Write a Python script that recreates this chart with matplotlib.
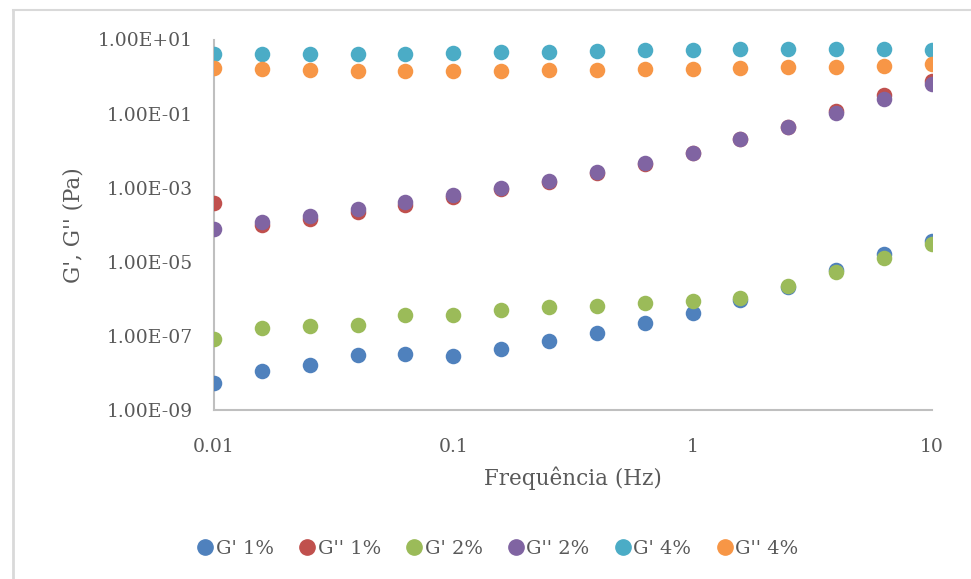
import matplotlib
matplotlib.use("Agg")
import matplotlib.pyplot as plt
from matplotlib.lines import Line2D

# frequencia (Hz)
freq = [0.01, 0.0158, 0.0251, 0.0398, 0.0631, 0.1, 0.158, 0.251, 0.398, 0.631,
        1.0, 1.58, 2.51, 3.98, 6.31, 10.0]

g1_1 = [5.4e-9, 1.16e-8, 1.68e-8, 3.13e-8, 3.33e-8, 2.95e-8, 4.55e-8, 7.47e-8,
        1.23e-7, 2.19e-7, 4.17e-7, 9.5e-7, 2.1e-6, 5.86e-6, 1.62e-5, 3.71e-5]
g2_1 = [3.75e-4, 1.0e-4, 1.45e-4, 2.24e-4, 3.46e-4, 5.44e-4, 9.33e-4, 1.47e-3,
        2.48e-3, 4.40e-3, 8.7e-3, 0.0204, 0.0438, 0.1205, 0.319, 0.760]
g1_2 = [8.3e-8, 1.64e-7, 1.82e-7, 2.02e-7, 3.59e-7, 3.59e-7, 5.12e-7, 6.05e-7,
        6.56e-7, 7.57e-7, 8.95e-7, 1.06e-6, 2.17e-6, 5.31e-6, 1.26e-5, 3.08e-5]
g2_2 = [7.66e-5, 1.18e-4, 1.75e-4, 2.65e-4, 4.17e-4, 6.44e-4, 1.01e-3, 1.56e-3,
        2.63e-3, 4.60e-3, 8.73e-3, 0.0204, 0.0438, 0.1065, 0.254, 0.619]
g1_4 = [4.14, 4.14, 4.14, 4.14, 4.14, 4.41, 4.6, 4.69, 4.9, 5.11, 5.21, 5.45,
        5.65, 5.65, 5.45, 5.21]
g2_4 = [1.74, 1.60, 1.48, 1.44, 1.42, 1.44, 1.44, 1.48, 1.51, 1.57, 1.60, 1.67,
        1.78, 1.85, 1.97, 2.19]

series = [g1_1, g2_1, g1_2, g2_2, g1_4, g2_4]
nomes = ["G' 1%", "G'' 1%", "G' 2%", "G'' 2%", "G' 4%", "G'' 4%"]
cores = ["#4F81BD", "#C0504D", "#9BBB59", "#8064A2", "#4BACC6", "#F79646"]

plt.rcParams['font.family'] = ['DejaVu Serif']
cinza = "#595959"

fig = plt.figure(figsize=(9.71, 5.79), dpi=100)
ax = fig.add_axes([214/971, 1-410/579, (932-214)/971, (410-39.5)/579])

for s, nome, c in zip(series, nomes, cores):
    ax.scatter(freq, s, s=125, color=c, label=nome, zorder=3, linewidths=0)

ax.set_xscale('log')
ax.set_yscale('log')
ax.set_xlim(0.01, 10)
ax.set_ylim(1e-9, 1e1)
ax.set_xticks([0.01, 0.1, 1, 10])
ax.set_xticklabels(["0.01", "0.1", "1", "10"])
yt = [1e-9, 1e-7, 1e-5, 1e-3, 1e-1, 1e1]
ax.set_yticks(yt)
ax.set_yticklabels(["1.00E-09", "1.00E-07", "1.00E-05", "1.00E-03", "1.00E-01", "1.00E+01"])
ax.minorticks_off()
ax.tick_params(length=0, labelsize=13.5, labelcolor=cinza)
ax.tick_params(axis='x', pad=20)
ax.tick_params(axis='y', pad=15)

for lado in ['top', 'right']:
    ax.spines[lado].set_visible(False)
for lado in ['left', 'bottom']:
    ax.spines[lado].set_color("#BFBFBF")
    ax.spines[lado].set_linewidth(1.5)
ax.patch.set_alpha(0)

ax.set_xlabel("Frequência (Hz)", fontsize=15.5, color=cinza, labelpad=8)
ax.set_ylabel("G', G'' (Pa)", fontsize=15.5, color=cinza, labelpad=10)

handles = [Line2D([], [], marker='o', linestyle='', markersize=11, color=c) for c in cores]
fig.legend(handles, nomes, loc='center', bbox_to_anchor=(497/971, 1-549/579), ncol=6,
           frameon=False, fontsize=14, labelcolor=cinza, handletextpad=0.05,
           columnspacing=1.2, handlelength=1.0)

# moldura do grafico (cortada a direita e embaixo)
fig.add_artist(Line2D([13/971, 13/971], [0, 1-10/579], transform=fig.transFigure, color="#D9D9D9", linewidth=2))
fig.add_artist(Line2D([13/971, 1], [1-10/579, 1-10/579], transform=fig.transFigure, color="#D9D9D9", linewidth=1.5))

fig.savefig("out.png", dpi=100)
